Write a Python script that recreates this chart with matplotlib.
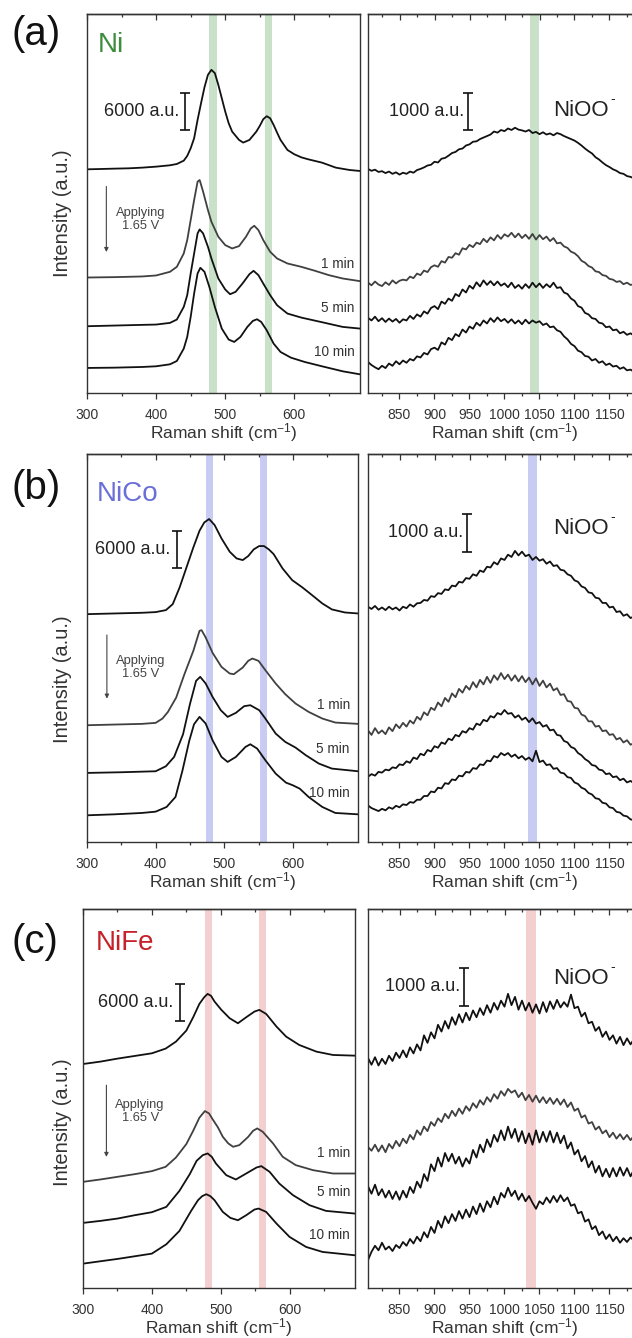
import matplotlib
matplotlib.use('Agg')
import matplotlib.pyplot as plt
from matplotlib.ticker import MultipleLocator, NullFormatter

plt.rcParams['font.family'] = ['Liberation Sans', 'DejaVu Sans']
plt.rcParams['mathtext.fontset'] = 'custom'
plt.rcParams['mathtext.rm'] = 'Liberation Sans'
plt.rcParams['mathtext.default'] = 'regular'

# ---- data: intensities in 10^3 a.u. (stacked as plotted) ----
# low-shift window, Ni
ni_lo_x0 = [300, 320, 340, 360, 380, 400, 420, 430, 440, 445, 450, 455, 460, 465, 470, 475, 480,
            485, 490, 495, 500, 505, 510, 520, 526, 535, 545, 550, 555, 560, 565, 570, 575, 580,
            590, 600, 610, 620, 640, 660, 680, 695]
ni_lo_y0 = [36.18, 36.23, 36.29, 36.34, 36.45, 36.61, 36.83, 37.04, 37.58, 38.34, 39.58, 41.20,
            44.17, 46.87, 49.46, 51.46, 52.27, 51.73, 49.84, 47.68, 45.52, 43.63, 42.28, 40.93,
            40.50, 40.93, 42.28, 43.20, 44.28, 44.77, 44.44, 43.36, 42.12, 40.93, 39.31, 38.61,
            38.12, 37.80, 37.26, 36.45, 36.07, 35.91]
ni_lo_x1 = [300, 340, 380, 400, 420, 430, 440, 445, 450, 455, 460, 463, 468, 475, 480, 490, 500,
            510, 520, 530, 537, 542, 548, 555, 565, 575, 590, 610, 630, 650, 670, 695]
ni_lo_y1 = [18.68, 18.74, 18.85, 19.01, 19.60, 20.41, 22.57, 24.73, 27.97, 31.21, 34.18, 34.45,
            32.56, 29.59, 27.70, 25.27, 23.92, 23.38, 23.76, 25.27, 26.62, 27.05, 26.35, 24.73,
            22.84, 21.76, 20.95, 20.41, 19.76, 19.06, 18.52, 18.09]
ni_lo_x2 = [300, 340, 380, 400, 420, 430, 440, 445, 450, 455, 460, 463, 468, 475, 480, 490, 500,
            507, 515, 525, 535, 541, 548, 555, 565, 575, 590, 610, 640, 670, 695]
ni_lo_y2 = [10.80, 10.91, 11.02, 11.07, 11.34, 11.88, 13.93, 15.82, 19.33, 22.57, 25.81, 26.46,
            25.81, 23.65, 21.76, 18.52, 16.74, 15.98, 16.36, 17.71, 19.22, 19.76, 19.06, 17.71,
            15.82, 14.20, 12.85, 12.20, 11.45, 10.69, 10.42]
ni_lo_x3 = [300, 340, 380, 400, 420, 430, 440, 445, 450, 455, 460, 464, 470, 477, 485, 495, 505,
            513, 522, 532, 540, 546, 552, 560, 570, 580, 595, 615, 640, 670, 695]
ni_lo_y3 = [4.05, 4.10, 4.21, 4.32, 4.64, 5.18, 7.18, 9.07, 12.31, 16.09, 19.33, 20.25, 19.60,
            17.17, 13.93, 10.42, 8.64, 8.26, 9.07, 10.69, 11.66, 11.93, 11.50, 10.15, 7.99, 6.64,
            5.72, 5.02, 4.32, 3.51, 3.02]

# low-shift window, NiCo
nico_lo_x0 = [300, 340, 380, 400, 415, 425, 435, 445, 455, 464, 471, 478, 486, 496, 508, 518, 527,
              535, 543, 551, 558, 565, 572, 585, 599, 614, 628, 643, 657, 676, 695]
nico_lo_y0 = [36.88, 36.99, 37.10, 37.21, 37.53, 38.50, 41.20, 44.44, 47.68, 50.38, 51.73, 52.27,
              51.30, 49.14, 46.98, 45.90, 45.63, 46.28, 47.36, 47.90, 47.90, 47.36, 46.60, 44.28,
              42.39, 41.20, 39.96, 38.61, 37.64, 37.15, 36.99]
nico_lo_x1 = [300, 340, 380, 400, 410, 418, 430, 442, 455, 464, 467, 473, 483, 496, 508, 514, 527,
              535, 541, 550, 560, 575, 589, 604, 623, 643, 662, 695]
nico_lo_y1 = [18.90, 19.01, 19.12, 19.28, 19.98, 21.06, 23.38, 27.16, 30.94, 34.18, 34.29, 33.10,
              30.62, 28.35, 27.27, 27.16, 28.24, 29.32, 29.70, 29.32, 27.81, 25.65, 23.92, 22.41,
              21.06, 19.98, 19.33, 19.12]
nico_lo_x2 = [300, 350, 400, 415, 427, 440, 450, 459, 465, 473, 483, 495, 505, 517, 529, 538, 551,
              560, 575, 589, 604, 619, 638, 657, 695]
nico_lo_y2 = [11.18, 11.29, 11.45, 12.26, 13.77, 17.44, 22.30, 26.08, 26.73, 25.65, 23.49, 21.33,
              20.25, 20.90, 21.98, 22.14, 21.33, 19.98, 17.55, 16.20, 15.28, 14.04, 12.69, 11.88,
              11.45]
nico_lo_x3 = [300, 340, 380, 400, 416, 429, 439, 449, 456, 464, 473, 483, 496, 505, 517, 531, 538,
              548, 560, 575, 590, 600, 610, 623, 643, 662, 695]
nico_lo_y3 = [4.32, 4.48, 4.70, 4.91, 5.67, 7.29, 11.50, 16.36, 19.06, 20.25, 19.17, 16.47, 13.77,
              12.96, 13.77, 15.39, 15.82, 15.12, 13.23, 11.07, 9.61, 9.18, 8.64, 7.29, 5.67, 4.70,
              4.48]

# low-shift window, NiFe
nife_lo_x0 = [300, 325, 350, 375, 400, 420, 435, 450, 460, 469, 476, 481, 486, 491, 501, 513, 525,
              537, 549, 556, 566, 581, 595, 614, 639, 663, 695]
nife_lo_y0 = [36.23, 36.61, 37.10, 37.53, 37.96, 38.72, 39.85, 41.63, 43.79, 45.95, 47.03, 47.57,
              47.25, 46.33, 44.98, 43.63, 42.82, 43.79, 44.71, 44.98, 44.33, 42.28, 40.66, 39.31,
              38.23, 37.69, 37.58]
nife_lo_x1 = [300, 325, 350, 375, 400, 420, 435, 450, 460, 469, 477, 483, 489, 496, 503, 511, 518,
              527, 540, 547, 553, 561, 576, 590, 609, 634, 663, 695]
nife_lo_y1 = [17.17, 17.55, 17.98, 18.41, 18.90, 19.60, 21.11, 23.27, 25.43, 27.54, 28.62, 28.24,
              27.16, 25.97, 24.46, 23.38, 22.84, 23.11, 24.46, 25.43, 25.81, 25.27, 23.38, 21.22,
              19.87, 19.06, 18.52, 18.52]
nife_lo_x2 = [300, 325, 350, 375, 400, 421, 440, 455, 465, 474, 481, 487, 493, 508, 522, 537, 552,
              559, 571, 585, 605, 629, 653, 695]
nife_lo_y2 = [10.53, 10.85, 11.23, 11.77, 12.26, 13.12, 15.71, 18.41, 20.57, 21.49, 21.76, 21.22,
              20.14, 18.25, 17.55, 18.52, 19.49, 19.71, 18.79, 16.90, 15.01, 13.39, 12.47, 12.04]
nife_lo_x3 = [300, 325, 350, 375, 400, 421, 440, 457, 467, 473, 479, 485, 491, 503, 514, 525, 537,
              549, 555, 566, 581, 600, 624, 648, 695]
nife_lo_y3 = [3.94, 4.32, 4.70, 5.13, 5.56, 7.07, 9.23, 12.47, 14.20, 14.85, 15.17, 14.85, 14.20,
              12.31, 11.34, 10.96, 11.77, 12.69, 12.85, 12.31, 10.42, 8.26, 6.64, 5.83, 5.29]

# high-shift window, sampled every 5 cm-1 from 805 to 1185
hi_x = list(range(805, 1190, 5))

ni_hi_y0 = [5.93, 5.88, 5.91, 5.85, 5.87, 5.82, 5.86, 5.80, 5.84, 5.78,
            5.83, 5.80, 5.86, 5.83, 5.90, 5.93, 5.97, 6.02, 6.04, 6.12,
            6.10, 6.20, 6.22, 6.28, 6.35, 6.38, 6.45, 6.47, 6.55, 6.58,
            6.65, 6.66, 6.72, 6.76, 6.80, 6.84, 6.92, 6.89, 6.96, 6.93,
            7.00, 6.96, 7.02, 6.97, 6.95, 6.92, 6.96, 6.88, 6.91, 6.85,
            6.90, 6.84, 6.87, 6.82, 6.88, 6.85, 6.80, 6.76, 6.72, 6.68,
            6.62, 6.55, 6.47, 6.40, 6.34, 6.24, 6.18, 6.10, 6.03, 5.98,
            5.92, 5.88, 5.82, 5.80, 5.74, 5.72, 5.68]
ni_hi_y1 = [2.92, 2.85, 2.95, 2.87, 2.83, 2.93, 2.86, 2.98, 2.90, 2.97,
            3.00, 2.98, 3.08, 3.04, 3.16, 3.12, 3.24, 3.20, 3.33, 3.38,
            3.34, 3.49, 3.45, 3.60, 3.58, 3.70, 3.66, 3.83, 3.80, 3.92,
            3.86, 3.98, 3.94, 4.08, 3.99, 4.12, 4.04, 4.18, 4.08, 4.20,
            4.14, 4.24, 4.12, 4.22, 4.10, 4.19, 4.08, 4.21, 4.06, 4.18,
            4.07, 4.14, 4.02, 4.10, 3.96, 3.98, 3.88, 3.84, 3.74, 3.70,
            3.62, 3.50, 3.45, 3.36, 3.32, 3.22, 3.20, 3.12, 3.10, 3.02,
            3.00, 2.94, 2.96, 2.88, 2.92, 2.86, 2.88]
ni_hi_y2 = [1.99, 1.92, 2.02, 1.90, 1.98, 1.88, 1.97, 1.89, 1.96, 1.86,
            1.95, 1.92, 2.04, 1.96, 2.08, 2.02, 2.16, 2.10, 2.25, 2.30,
            2.22, 2.42, 2.36, 2.50, 2.44, 2.62, 2.56, 2.74, 2.66, 2.84,
            2.76, 2.93, 2.82, 2.98, 2.86, 2.96, 2.85, 2.95, 2.84, 2.90,
            2.80, 2.92, 2.78, 2.86, 2.76, 2.88, 2.78, 2.92, 2.80, 2.90,
            2.78, 2.88, 2.80, 2.92, 2.78, 2.80, 2.66, 2.62, 2.50, 2.44,
            2.30, 2.26, 2.12, 2.08, 1.98, 1.96, 1.86, 1.84, 1.74, 1.76,
            1.66, 1.68, 1.58, 1.62, 1.54, 1.58, 1.52]
ni_hi_y3 = [0.82, 0.74, 0.68, 0.63, 0.72, 0.66, 0.78, 0.72, 0.84, 0.76,
            0.86, 0.80, 0.90, 0.86, 0.97, 0.94, 1.06, 1.02, 1.16, 1.20,
            1.14, 1.34, 1.28, 1.46, 1.40, 1.56, 1.50, 1.68, 1.60, 1.76,
            1.70, 1.86, 1.78, 1.92, 1.84, 1.98, 1.88, 2.00, 1.90, 1.96,
            1.86, 1.95, 1.84, 1.92, 1.82, 1.94, 1.84, 1.92, 1.86, 1.90,
            1.80, 1.84, 1.74, 1.76, 1.66, 1.62, 1.50, 1.42, 1.30, 1.24,
            1.12, 1.08, 0.98, 0.96, 0.86, 0.90, 0.80, 0.84, 0.74, 0.78,
            0.70, 0.72, 0.64, 0.68, 0.60, 0.62, 0.56]

nico_hi_y0 = [6.24, 6.18, 6.26, 6.16, 6.22, 6.15, 6.24, 6.17, 6.22, 6.14,
              6.24, 6.20, 6.30, 6.24, 6.33, 6.34, 6.42, 6.40, 6.52, 6.50,
              6.60, 6.58, 6.70, 6.68, 6.80, 6.78, 6.90, 6.88, 7.00, 6.98,
              7.10, 7.06, 7.20, 7.16, 7.30, 7.28, 7.42, 7.36, 7.52, 7.48,
              7.62, 7.56, 7.72, 7.60, 7.70, 7.58, 7.62, 7.48, 7.56, 7.46,
              7.50, 7.38, 7.44, 7.32, 7.34, 7.22, 7.20, 7.10, 7.06, 6.94,
              6.90, 6.78, 6.74, 6.62, 6.60, 6.48, 6.46, 6.34, 6.34, 6.22,
              6.24, 6.10, 6.12, 6.00, 6.04, 5.94, 5.98]
nico_hi_y1 = [2.96, 2.84, 3.02, 2.88, 2.96, 2.86, 3.04, 2.94, 3.12, 3.02,
              3.16, 3.06, 3.22, 3.14, 3.32, 3.24, 3.44, 3.36, 3.56, 3.50,
              3.70, 3.60, 3.82, 3.72, 3.94, 3.84, 4.06, 3.96, 4.14, 4.04,
              4.24, 4.10, 4.30, 4.18, 4.38, 4.22, 4.42, 4.30, 4.48, 4.32,
              4.44, 4.28, 4.42, 4.26, 4.40, 4.24, 4.36, 4.18, 4.34, 4.14,
              4.28, 4.10, 4.20, 4.02, 4.08, 3.90, 3.92, 3.74, 3.72, 3.56,
              3.54, 3.38, 3.34, 3.20, 3.20, 3.06, 3.08, 2.94, 2.96, 2.84,
              2.86, 2.72, 2.76, 2.64, 2.70, 2.58, 2.62]
nico_hi_y2 = [1.73, 1.80, 1.76, 1.86, 1.84, 1.92, 1.90, 1.98, 1.96, 2.06,
              2.04, 2.14, 2.10, 2.24, 2.20, 2.34, 2.30, 2.44, 2.40, 2.54,
              2.50, 2.64, 2.60, 2.74, 2.70, 2.84, 2.80, 2.94, 2.90, 3.02,
              2.98, 3.14, 3.10, 3.24, 3.20, 3.34, 3.30, 3.42, 3.38, 3.50,
              3.40, 3.42, 3.30, 3.36, 3.24, 3.30, 3.18, 3.28, 3.14, 3.18,
              3.06, 3.10, 2.96, 2.98, 2.84, 2.82, 2.68, 2.64, 2.52, 2.48,
              2.36, 2.30, 2.20, 2.14, 2.04, 2.02, 1.92, 1.90, 1.80, 1.82,
              1.72, 1.74, 1.64, 1.68, 1.58, 1.62, 1.56]
nico_hi_y3 = [0.97, 0.90, 0.86, 0.82, 0.88, 0.84, 0.92, 0.88, 0.96, 0.92,
              1.00, 0.98, 1.06, 1.04, 1.12, 1.12, 1.22, 1.22, 1.34, 1.32,
              1.44, 1.42, 1.56, 1.54, 1.66, 1.64, 1.76, 1.74, 1.86, 1.84,
              1.96, 1.94, 2.06, 2.04, 2.16, 2.14, 2.28, 2.24, 2.36, 2.30,
              2.36, 2.26, 2.32, 2.22, 2.28, 2.18, 2.24, 2.14, 2.42, 2.12,
              2.16, 2.04, 2.06, 1.94, 1.96, 1.84, 1.82, 1.72, 1.70, 1.58,
              1.54, 1.44, 1.40, 1.30, 1.26, 1.16, 1.14, 1.04, 1.02, 0.92,
              0.90, 0.80, 0.78, 0.70, 0.68, 0.60, 0.58]

nife_hi_y0 = [6.10, 5.92, 6.12, 5.90, 6.08, 5.94, 6.16, 6.02, 6.24, 6.10,
              6.30, 6.12, 6.38, 6.22, 6.46, 6.30, 6.70, 6.50, 6.78, 6.62,
              6.98, 6.80, 7.08, 6.88, 7.18, 6.98, 7.26, 7.04, 7.30, 7.10,
              7.36, 7.18, 7.42, 7.24, 7.50, 7.30, 7.56, 7.38, 7.62, 7.46,
              7.80, 7.50, 7.72, 7.38, 7.62, 7.36, 7.56, 7.30, 7.52, 7.28,
              7.58, 7.32, 7.60, 7.40, 7.64, 7.44, 7.58, 7.46, 7.78, 7.42,
              7.46, 7.20, 7.30, 7.02, 7.06, 6.82, 6.92, 6.66, 6.80, 6.58,
              6.70, 6.48, 6.66, 6.44, 6.62, 6.46, 6.60]
nife_hi_y1 = [3.74, 3.64, 3.80, 3.62, 3.78, 3.60, 3.82, 3.70, 3.90, 3.76,
              3.96, 3.84, 4.06, 3.94, 4.18, 4.06, 4.28, 4.16, 4.40, 4.30,
              4.50, 4.40, 4.62, 4.50, 4.70, 4.56, 4.76, 4.62, 4.82, 4.70,
              4.90, 4.78, 4.98, 4.86, 5.06, 4.94, 5.14, 5.02, 5.22, 5.10,
              5.28, 5.18, 5.24, 5.06, 5.18, 4.98, 5.12, 4.94, 5.10, 4.92,
              5.06, 4.90, 5.04, 4.88, 5.02, 4.86, 5.00, 4.80, 4.92, 4.70,
              4.76, 4.52, 4.58, 4.36, 4.40, 4.20, 4.28, 4.10, 4.18, 4.00,
              4.12, 3.96, 4.08, 3.94, 4.06, 3.92, 4.04]
nife_hi_y2 = [2.70, 2.50, 2.74, 2.46, 2.62, 2.40, 2.58, 2.36, 2.56, 2.34,
              2.58, 2.40, 2.68, 2.52, 2.82, 2.66, 3.02, 2.84, 3.28, 3.10,
              3.46, 3.22, 3.58, 3.36, 3.56, 3.30, 3.48, 3.22, 3.44, 3.30,
              3.66, 3.46, 3.80, 3.60, 3.94, 3.74, 4.06, 3.88, 4.18, 3.92,
              4.28, 3.98, 4.22, 3.88, 4.16, 3.84, 4.10, 3.80, 4.18, 3.86,
              4.14, 3.88, 4.16, 3.86, 4.12, 3.84, 4.04, 3.70, 3.86, 3.54,
              3.66, 3.36, 3.50, 3.20, 3.36, 3.06, 3.24, 2.96, 3.16, 2.94,
              3.18, 2.96, 3.20, 2.98, 3.18, 2.96, 3.14]
nife_hi_y3 = [0.74, 0.96, 1.12, 1.00, 1.20, 1.02, 1.10, 0.98, 1.14, 1.06,
              1.22, 1.12, 1.30, 1.18, 1.36, 1.24, 1.48, 1.34, 1.62, 1.46,
              1.78, 1.60, 1.90, 1.72, 1.96, 1.78, 2.04, 1.84, 2.08, 1.88,
              2.16, 1.96, 2.24, 2.02, 2.30, 2.14, 2.42, 2.22, 2.52, 2.40,
              2.66, 2.44, 2.58, 2.34, 2.50, 2.30, 2.44, 2.26, 2.10, 2.30,
              2.22, 2.40, 2.26, 2.44, 2.28, 2.46, 2.30, 2.40, 2.18, 2.22,
              1.98, 2.02, 1.76, 1.82, 1.56, 1.64, 1.40, 1.50, 1.30, 1.42,
              1.24, 1.36, 1.20, 1.32, 1.22, 1.34, 1.26]

samples = ['Ni', 'NiCo', 'NiFe']
panel_tags = ['(a)', '(b)', '(c)']
time_labels = ['1 min', '5 min', '10 min']
sample_colors = ['#3d8c3d', '#6a6fd8', '#c42129']
band_colors = ['#c8e1c8', '#c8ccf2', '#f4cfcf']
lo_bands = [[(477, 488), (558, 568)], [(474, 483), (552, 562)], [(477, 487), (555, 566)]]
hi_bands = [(1036, 1050), (1033, 1047), (1031, 1045)]

lo_traces = [
    [(ni_lo_x0, ni_lo_y0), (ni_lo_x1, ni_lo_y1), (ni_lo_x2, ni_lo_y2), (ni_lo_x3, ni_lo_y3)],
    [(nico_lo_x0, nico_lo_y0), (nico_lo_x1, nico_lo_y1), (nico_lo_x2, nico_lo_y2), (nico_lo_x3, nico_lo_y3)],
    [(nife_lo_x0, nife_lo_y0), (nife_lo_x1, nife_lo_y1), (nife_lo_x2, nife_lo_y2), (nife_lo_x3, nife_lo_y3)],
]
hi_traces = [
    [ni_hi_y0, ni_hi_y1, ni_hi_y2, ni_hi_y3],
    [nico_hi_y0, nico_hi_y1, nico_hi_y2, nico_hi_y3],
    [nife_hi_y0, nife_hi_y1, nife_hi_y2, nife_hi_y3],
]

# ---- layout (pixels of the 632x1338 canvas) ----
W, H = 632, 1338
lo_boxes = [(87, 14, 360, 393), (87, 454, 358, 842), (83, 909, 355, 1288)]
hi_boxes = [(368, 14, 641, 393), (368, 454, 641, 842), (368, 909, 641, 1288)]
lo_ytop = [61.3, 62.8, 61.3]
hi_ytop = [10.03, 10.29, 10.05]
ylabel_y = [213, 679, 1122]
tag_y = [34, 488, 942]

# annotation spots in data units for each row
lo_bar = [(442.5, 42.6, 48.6), (430.5, 44.4, 50.4), (440.3, 43.2, 49.2)]
hi_bar = [(948, 6.95, 7.95), (946.5, 7.70, 8.70), (942, 7.49, 8.49)]
name_pos = [(316, 56.3), (314.5, 56.4), (319, 55.8)]
arrow_pos = [(328, 33.4, 22.8), (329, 33.5, 23.2), (334, 32.8, 21.2)]
apply_pos = [(377, 28.0), (378, 28.2), (383, 28.5)]
time_x = [687, 683, 688]
time_y = [[20.8, 13.7, 6.6], [22.1, 15.1, 7.9], [21.8, 15.6, 8.6]]
niooh_y = [7.48, 8.32, 8.21]

line_colors = ['#111111', '#404040', '#111111', '#111111']
ink = '#333333'

fig = plt.figure(figsize=(W / 100, H / 100), dpi=100)


def rect(l, t, r, b):
    return [l / W, 1 - b / H, (r - l) / W, (b - t) / H]


def style(ax, major, minor):
    ax.set_yticks([])
    for s in ax.spines.values():
        s.set_linewidth(1.0)
        s.set_color(ink)
    ax.xaxis.set_major_locator(MultipleLocator(major))
    ax.xaxis.set_minor_locator(MultipleLocator(minor))
    ax.tick_params(axis='x', which='both', direction='out', color=ink, width=0.9,
                   labelsize=10, labelcolor=ink, pad=6)
    ax.tick_params(axis='x', which='major', length=4.5)
    ax.tick_params(axis='x', which='minor', length=2.5)
    top = ax.secondary_xaxis('top')
    top.xaxis.set_major_locator(MultipleLocator(major))
    top.xaxis.set_minor_locator(MultipleLocator(minor))
    top.xaxis.set_major_formatter(NullFormatter())
    top.tick_params(which='both', direction='in', color=ink, width=0.9)
    top.tick_params(which='major', length=4)
    top.tick_params(which='minor', length=2.5)
    top.spines['top'].set_linewidth(1.0)
    top.spines['top'].set_color(ink)
    ax.set_xlabel('Raman shift (cm$^{-1}$)', fontsize=12.5, color=ink, labelpad=0)


for r in range(3):
    # low-shift panel
    ax = fig.add_axes(rect(*lo_boxes[r]))
    for lo, hi in lo_bands[r]:
        ax.axvspan(lo, hi, color=band_colors[r], lw=0, zorder=0)
    for k, (xs, ys) in enumerate(lo_traces[r]):
        ax.plot(xs, ys, color=line_colors[k], lw=1.3, zorder=2)
    ax.set_xlim(300, 695)
    ax.set_ylim(0, lo_ytop[r])
    style(ax, 100, 50)

    bx, b0, b1 = lo_bar[r]
    ax.errorbar(bx, (b0 + b1) / 2, yerr=(b1 - b0) / 2, color='#111111', lw=1.2,
                capsize=3.8, capthick=1.2)
    ax.text(bx - 9, (b0 + b1) / 2, '6000 a.u.', ha='right', va='center',
            fontsize=13, color='#222222')
    ax.text(name_pos[r][0], name_pos[r][1], samples[r], ha='left', va='center',
            fontsize=20, color=sample_colors[r])
    axx, a0, a1 = arrow_pos[r]
    ax.annotate('', xy=(axx, a1), xytext=(axx, a0),
                arrowprops=dict(arrowstyle='-|>', color='#444444', lw=0.8,
                                mutation_scale=6, shrinkA=0, shrinkB=0))
    ax.text(apply_pos[r][0], apply_pos[r][1], 'Applying\n1.65 V', ha='center',
            va='center', fontsize=9.3, color='#444444', linespacing=1.1)
    for lab, ty in zip(time_labels, time_y[r]):
        ax.text(time_x[r], ty, lab, ha='right', va='center', fontsize=9.8, color=ink)

    # high-shift panel
    ax2 = fig.add_axes(rect(*hi_boxes[r]))
    ax2.axvspan(*hi_bands[r], color=band_colors[r], lw=0, zorder=0)
    for k, ys in enumerate(hi_traces[r]):
        ax2.plot(hi_x, ys, color=line_colors[k], lw=1.3, zorder=2)
    ax2.set_xlim(805, 1195)
    ax2.set_ylim(0, hi_ytop[r])
    style(ax2, 50, 25)

    bx, b0, b1 = hi_bar[r]
    ax2.errorbar(bx, (b0 + b1) / 2, yerr=(b1 - b0) / 2, color='#111111', lw=1.2,
                 capsize=3.8, capthick=1.2)
    ax2.text(bx - 5, (b0 + b1) / 2, '1000 a.u.', ha='right', va='center',
             fontsize=13, color='#222222')
    ax2.text(1070, niooh_y[r], 'NiOO', ha='left', va='center',
             fontsize=16, color='#222222')
    ax2.text(1151, niooh_y[r] + 0.30, '-', ha='left', va='center',
             fontsize=10, color='#222222')

    fig.text(62 / W, 1 - ylabel_y[r] / H, 'Intensity (a.u.)', rotation=90,
             ha='center', va='center', fontsize=14.5, color=ink)
    fig.text(12 / W, 1 - tag_y[r] / H, panel_tags[r], ha='left', va='center',
             fontsize=29, color='#111111')

fig.savefig('out.png', dpi=100)
